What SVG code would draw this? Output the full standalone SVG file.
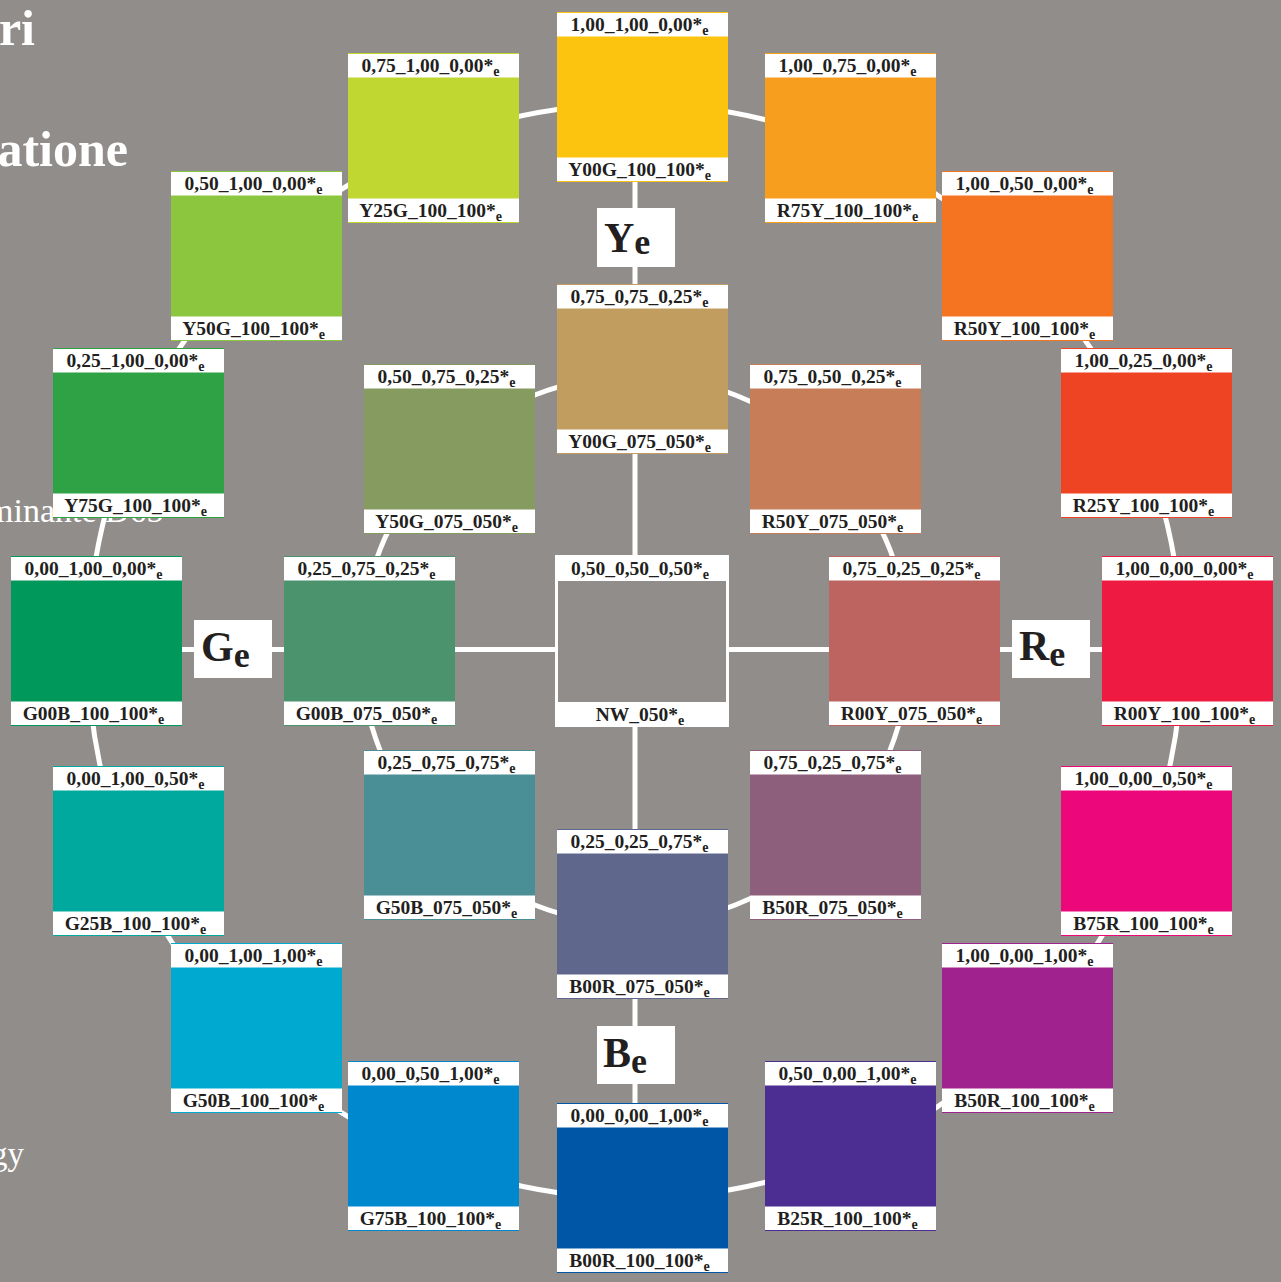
<svg xmlns="http://www.w3.org/2000/svg" width="1281" height="1282" viewBox="0 0 1281 1282">
<style>
.bgt{font-family:"Liberation Serif","Times New Roman",serif;fill:#ffffff}
.lbl{font-family:"Liberation Serif","Times New Roman",serif;font-weight:bold;font-size:19.5px;fill:#231f20;text-anchor:middle}
.sub{font-size:14px}
.big{font-family:"Liberation Serif","Times New Roman",serif;font-weight:bold;font-size:42px;fill:#231f20}
.bsub{font-size:36px}
.wb{fill:#ffffff}
.ln{stroke:#ffffff;stroke-width:5;fill:none}
</style>
<rect x="0" y="0" width="1281" height="1282" fill="#918d8a"/>
<g id="background-text">
<text class="bgt" x="35" y="45" font-size="50" font-weight="bold" text-anchor="end">ri</text>
<text class="bgt" x="128" y="166" font-size="50" font-weight="bold" text-anchor="end">atione</text>
<text class="bgt" x="-13" y="522" font-size="34">minante D65</text>
<text class="bgt" x="24" y="1165" font-size="33" text-anchor="end">gy</text>
</g>
<g id="connectors">
<circle class="ln" cx="635" cy="651" r="547"/>
<circle class="ln" cx="635" cy="650" r="274"/>
<line class="ln" x1="635" y1="182" x2="635" y2="1103"/>
<line class="ln" x1="182" y1="649.5" x2="1102" y2="649.5"/>
</g>
<g id="axis-labels">
<g id="Ye"><rect class="wb" x="597" y="208" width="78" height="59"/><text class="big" x="604" y="252">Y<tspan class="bsub" dy="2">e</tspan></text></g>
<g id="Ge"><rect class="wb" x="194" y="620" width="78" height="58"/><text class="big" x="201" y="661">G<tspan class="bsub" dy="6">e</tspan></text></g>
<g id="Re"><rect class="wb" x="1012" y="620" width="78" height="58"/><text class="big" x="1019" y="660">R<tspan class="bsub" dy="6">e</tspan></text></g>
<g id="Be"><rect class="wb" x="597" y="1026" width="78" height="58"/><text class="big" x="603" y="1067">B<tspan class="bsub" dy="6">e</tspan></text></g>
</g>
<g id="n-Y00G_100"><rect x="557" y="12" width="171" height="170" fill="#fcc30f"/><rect class="wb" x="557" y="13" width="171" height="23.5"/><rect class="wb" x="557" y="157.5" width="171" height="23.5"/><text class="lbl" x="639.5" y="31">1,00_1,00_0,00*<tspan class="sub" dy="4">e</tspan></text><text class="lbl" x="639.5" y="176">Y00G_100_100*<tspan class="sub" dy="4">e</tspan></text></g>
<g id="n-R75Y_100"><rect x="765" y="53" width="171" height="170" fill="#f89e1f"/><rect class="wb" x="765" y="54" width="171" height="23.5"/><rect class="wb" x="765" y="198.5" width="171" height="23.5"/><text class="lbl" x="847.5" y="72">1,00_0,75_0,00*<tspan class="sub" dy="4">e</tspan></text><text class="lbl" x="847.5" y="217">R75Y_100_100*<tspan class="sub" dy="4">e</tspan></text></g>
<g id="n-R50Y_100"><rect x="942" y="171" width="171" height="170" fill="#f47421"/><rect class="wb" x="942" y="172" width="171" height="23.5"/><rect class="wb" x="942" y="316.5" width="171" height="23.5"/><text class="lbl" x="1024.5" y="190">1,00_0,50_0,00*<tspan class="sub" dy="4">e</tspan></text><text class="lbl" x="1024.5" y="335">R50Y_100_100*<tspan class="sub" dy="4">e</tspan></text></g>
<g id="n-R25Y_100"><rect x="1061" y="348" width="171" height="170" fill="#ee4423"/><rect class="wb" x="1061" y="349" width="171" height="23.5"/><rect class="wb" x="1061" y="493.5" width="171" height="23.5"/><text class="lbl" x="1143.5" y="367">1,00_0,25_0,00*<tspan class="sub" dy="4">e</tspan></text><text class="lbl" x="1143.5" y="512">R25Y_100_100*<tspan class="sub" dy="4">e</tspan></text></g>
<g id="n-R00Y_100"><rect x="1102" y="556" width="171" height="170" fill="#ef1a42"/><rect class="wb" x="1102" y="557" width="171" height="23.5"/><rect class="wb" x="1102" y="701.5" width="171" height="23.5"/><text class="lbl" x="1184.5" y="575">1,00_0,00_0,00*<tspan class="sub" dy="4">e</tspan></text><text class="lbl" x="1184.5" y="720">R00Y_100_100*<tspan class="sub" dy="4">e</tspan></text></g>
<g id="n-B75R_100"><rect x="1061" y="766" width="171" height="170" fill="#ec087b"/><rect class="wb" x="1061" y="767" width="171" height="23.5"/><rect class="wb" x="1061" y="911.5" width="171" height="23.5"/><text class="lbl" x="1143.5" y="785">1,00_0,00_0,50*<tspan class="sub" dy="4">e</tspan></text><text class="lbl" x="1143.5" y="930">B75R_100_100*<tspan class="sub" dy="4">e</tspan></text></g>
<g id="n-B50R_100"><rect x="942" y="943" width="171" height="170" fill="#a0228f"/><rect class="wb" x="942" y="944" width="171" height="23.5"/><rect class="wb" x="942" y="1088.5" width="171" height="23.5"/><text class="lbl" x="1024.5" y="962">1,00_0,00_1,00*<tspan class="sub" dy="4">e</tspan></text><text class="lbl" x="1024.5" y="1107">B50R_100_100*<tspan class="sub" dy="4">e</tspan></text></g>
<g id="n-B25R_100"><rect x="765" y="1061" width="171" height="170" fill="#4c2d91"/><rect class="wb" x="765" y="1062" width="171" height="23.5"/><rect class="wb" x="765" y="1206.5" width="171" height="23.5"/><text class="lbl" x="847.5" y="1080">0,50_0,00_1,00*<tspan class="sub" dy="4">e</tspan></text><text class="lbl" x="847.5" y="1225">B25R_100_100*<tspan class="sub" dy="4">e</tspan></text></g>
<g id="n-B00R_100"><rect x="557" y="1103" width="171" height="170" fill="#0056a6"/><rect class="wb" x="557" y="1104" width="171" height="23.5"/><rect class="wb" x="557" y="1248.5" width="171" height="23.5"/><text class="lbl" x="639.5" y="1122">0,00_0,00_1,00*<tspan class="sub" dy="4">e</tspan></text><text class="lbl" x="639.5" y="1267">B00R_100_100*<tspan class="sub" dy="4">e</tspan></text></g>
<g id="n-G75B_100"><rect x="348" y="1061" width="171" height="170" fill="#0088cf"/><rect class="wb" x="348" y="1062" width="171" height="23.5"/><rect class="wb" x="348" y="1206.5" width="171" height="23.5"/><text class="lbl" x="430.5" y="1080">0,00_0,50_1,00*<tspan class="sub" dy="4">e</tspan></text><text class="lbl" x="430.5" y="1225">G75B_100_100*<tspan class="sub" dy="4">e</tspan></text></g>
<g id="n-G50B_100"><rect x="171" y="943" width="171" height="170" fill="#00a9cf"/><rect class="wb" x="171" y="944" width="171" height="23.5"/><rect class="wb" x="171" y="1088.5" width="171" height="23.5"/><text class="lbl" x="253.5" y="962">0,00_1,00_1,00*<tspan class="sub" dy="4">e</tspan></text><text class="lbl" x="253.5" y="1107">G50B_100_100*<tspan class="sub" dy="4">e</tspan></text></g>
<g id="n-G25B_100"><rect x="53" y="766" width="171" height="170" fill="#00a99d"/><rect class="wb" x="53" y="767" width="171" height="23.5"/><rect class="wb" x="53" y="911.5" width="171" height="23.5"/><text class="lbl" x="135.5" y="785">0,00_1,00_0,50*<tspan class="sub" dy="4">e</tspan></text><text class="lbl" x="135.5" y="930">G25B_100_100*<tspan class="sub" dy="4">e</tspan></text></g>
<g id="n-G00B_100"><rect x="11" y="556" width="171" height="170" fill="#00995b"/><rect class="wb" x="11" y="557" width="171" height="23.5"/><rect class="wb" x="11" y="701.5" width="171" height="23.5"/><text class="lbl" x="93.5" y="575">0,00_1,00_0,00*<tspan class="sub" dy="4">e</tspan></text><text class="lbl" x="93.5" y="720">G00B_100_100*<tspan class="sub" dy="4">e</tspan></text></g>
<g id="n-Y75G_100"><rect x="53" y="348" width="171" height="170" fill="#2ea244"/><rect class="wb" x="53" y="349" width="171" height="23.5"/><rect class="wb" x="53" y="493.5" width="171" height="23.5"/><text class="lbl" x="135.5" y="367">0,25_1,00_0,00*<tspan class="sub" dy="4">e</tspan></text><text class="lbl" x="135.5" y="512">Y75G_100_100*<tspan class="sub" dy="4">e</tspan></text></g>
<g id="n-Y50G_100"><rect x="171" y="171" width="171" height="170" fill="#8cc63f"/><rect class="wb" x="171" y="172" width="171" height="23.5"/><rect class="wb" x="171" y="316.5" width="171" height="23.5"/><text class="lbl" x="253.5" y="190">0,50_1,00_0,00*<tspan class="sub" dy="4">e</tspan></text><text class="lbl" x="253.5" y="335">Y50G_100_100*<tspan class="sub" dy="4">e</tspan></text></g>
<g id="n-Y25G_100"><rect x="348" y="53" width="171" height="170" fill="#bfd730"/><rect class="wb" x="348" y="54" width="171" height="23.5"/><rect class="wb" x="348" y="198.5" width="171" height="23.5"/><text class="lbl" x="430.5" y="72">0,75_1,00_0,00*<tspan class="sub" dy="4">e</tspan></text><text class="lbl" x="430.5" y="217">Y25G_100_100*<tspan class="sub" dy="4">e</tspan></text></g>
<g id="n-Y00G_075"><rect x="557" y="284" width="171" height="170" fill="#c19e5f"/><rect class="wb" x="557" y="285" width="171" height="23.5"/><rect class="wb" x="557" y="429.5" width="171" height="23.5"/><text class="lbl" x="639.5" y="303">0,75_0,75_0,25*<tspan class="sub" dy="4">e</tspan></text><text class="lbl" x="639.5" y="448">Y00G_075_050*<tspan class="sub" dy="4">e</tspan></text></g>
<g id="n-R50Y_075"><rect x="750" y="364" width="171" height="170" fill="#c77d58"/><rect class="wb" x="750" y="365" width="171" height="23.5"/><rect class="wb" x="750" y="509.5" width="171" height="23.5"/><text class="lbl" x="832.5" y="383">0,75_0,50_0,25*<tspan class="sub" dy="4">e</tspan></text><text class="lbl" x="832.5" y="528">R50Y_075_050*<tspan class="sub" dy="4">e</tspan></text></g>
<g id="n-R00Y_075"><rect x="829" y="556" width="171" height="170" fill="#bd6461"/><rect class="wb" x="829" y="557" width="171" height="23.5"/><rect class="wb" x="829" y="701.5" width="171" height="23.5"/><text class="lbl" x="911.5" y="575">0,75_0,25_0,25*<tspan class="sub" dy="4">e</tspan></text><text class="lbl" x="911.5" y="720">R00Y_075_050*<tspan class="sub" dy="4">e</tspan></text></g>
<g id="n-B50R_075"><rect x="750" y="750" width="171" height="170" fill="#8e5f7d"/><rect class="wb" x="750" y="751" width="171" height="23.5"/><rect class="wb" x="750" y="895.5" width="171" height="23.5"/><text class="lbl" x="832.5" y="769">0,75_0,25_0,75*<tspan class="sub" dy="4">e</tspan></text><text class="lbl" x="832.5" y="914">B50R_075_050*<tspan class="sub" dy="4">e</tspan></text></g>
<g id="n-B00R_075"><rect x="557" y="829" width="171" height="170" fill="#5f688c"/><rect class="wb" x="557" y="830" width="171" height="23.5"/><rect class="wb" x="557" y="974.5" width="171" height="23.5"/><text class="lbl" x="639.5" y="848">0,25_0,25_0,75*<tspan class="sub" dy="4">e</tspan></text><text class="lbl" x="639.5" y="993">B00R_075_050*<tspan class="sub" dy="4">e</tspan></text></g>
<g id="n-G50B_075"><rect x="364" y="750" width="171" height="170" fill="#4a8e96"/><rect class="wb" x="364" y="751" width="171" height="23.5"/><rect class="wb" x="364" y="895.5" width="171" height="23.5"/><text class="lbl" x="446.5" y="769">0,25_0,75_0,75*<tspan class="sub" dy="4">e</tspan></text><text class="lbl" x="446.5" y="914">G50B_075_050*<tspan class="sub" dy="4">e</tspan></text></g>
<g id="n-G00B_075"><rect x="284" y="556" width="171" height="170" fill="#4a936d"/><rect class="wb" x="284" y="557" width="171" height="23.5"/><rect class="wb" x="284" y="701.5" width="171" height="23.5"/><text class="lbl" x="366.5" y="575">0,25_0,75_0,25*<tspan class="sub" dy="4">e</tspan></text><text class="lbl" x="366.5" y="720">G00B_075_050*<tspan class="sub" dy="4">e</tspan></text></g>
<g id="n-Y50G_075"><rect x="364" y="364" width="171" height="170" fill="#869b5f"/><rect class="wb" x="364" y="365" width="171" height="23.5"/><rect class="wb" x="364" y="509.5" width="171" height="23.5"/><text class="lbl" x="446.5" y="383">0,50_0,75_0,25*<tspan class="sub" dy="4">e</tspan></text><text class="lbl" x="446.5" y="528">Y50G_075_050*<tspan class="sub" dy="4">e</tspan></text></g>
<g id="n-NW_050"><rect class="wb" x="555" y="555" width="174" height="172"/><rect x="558" y="581" width="168" height="121" fill="#918d8a"/><text class="lbl" x="640" y="575">0,50_0,50_0,50*<tspan class="sub" dy="4">e</tspan></text><text class="lbl" x="640" y="721">NW_050*<tspan class="sub" dy="4">e</tspan></text></g>
</svg>
